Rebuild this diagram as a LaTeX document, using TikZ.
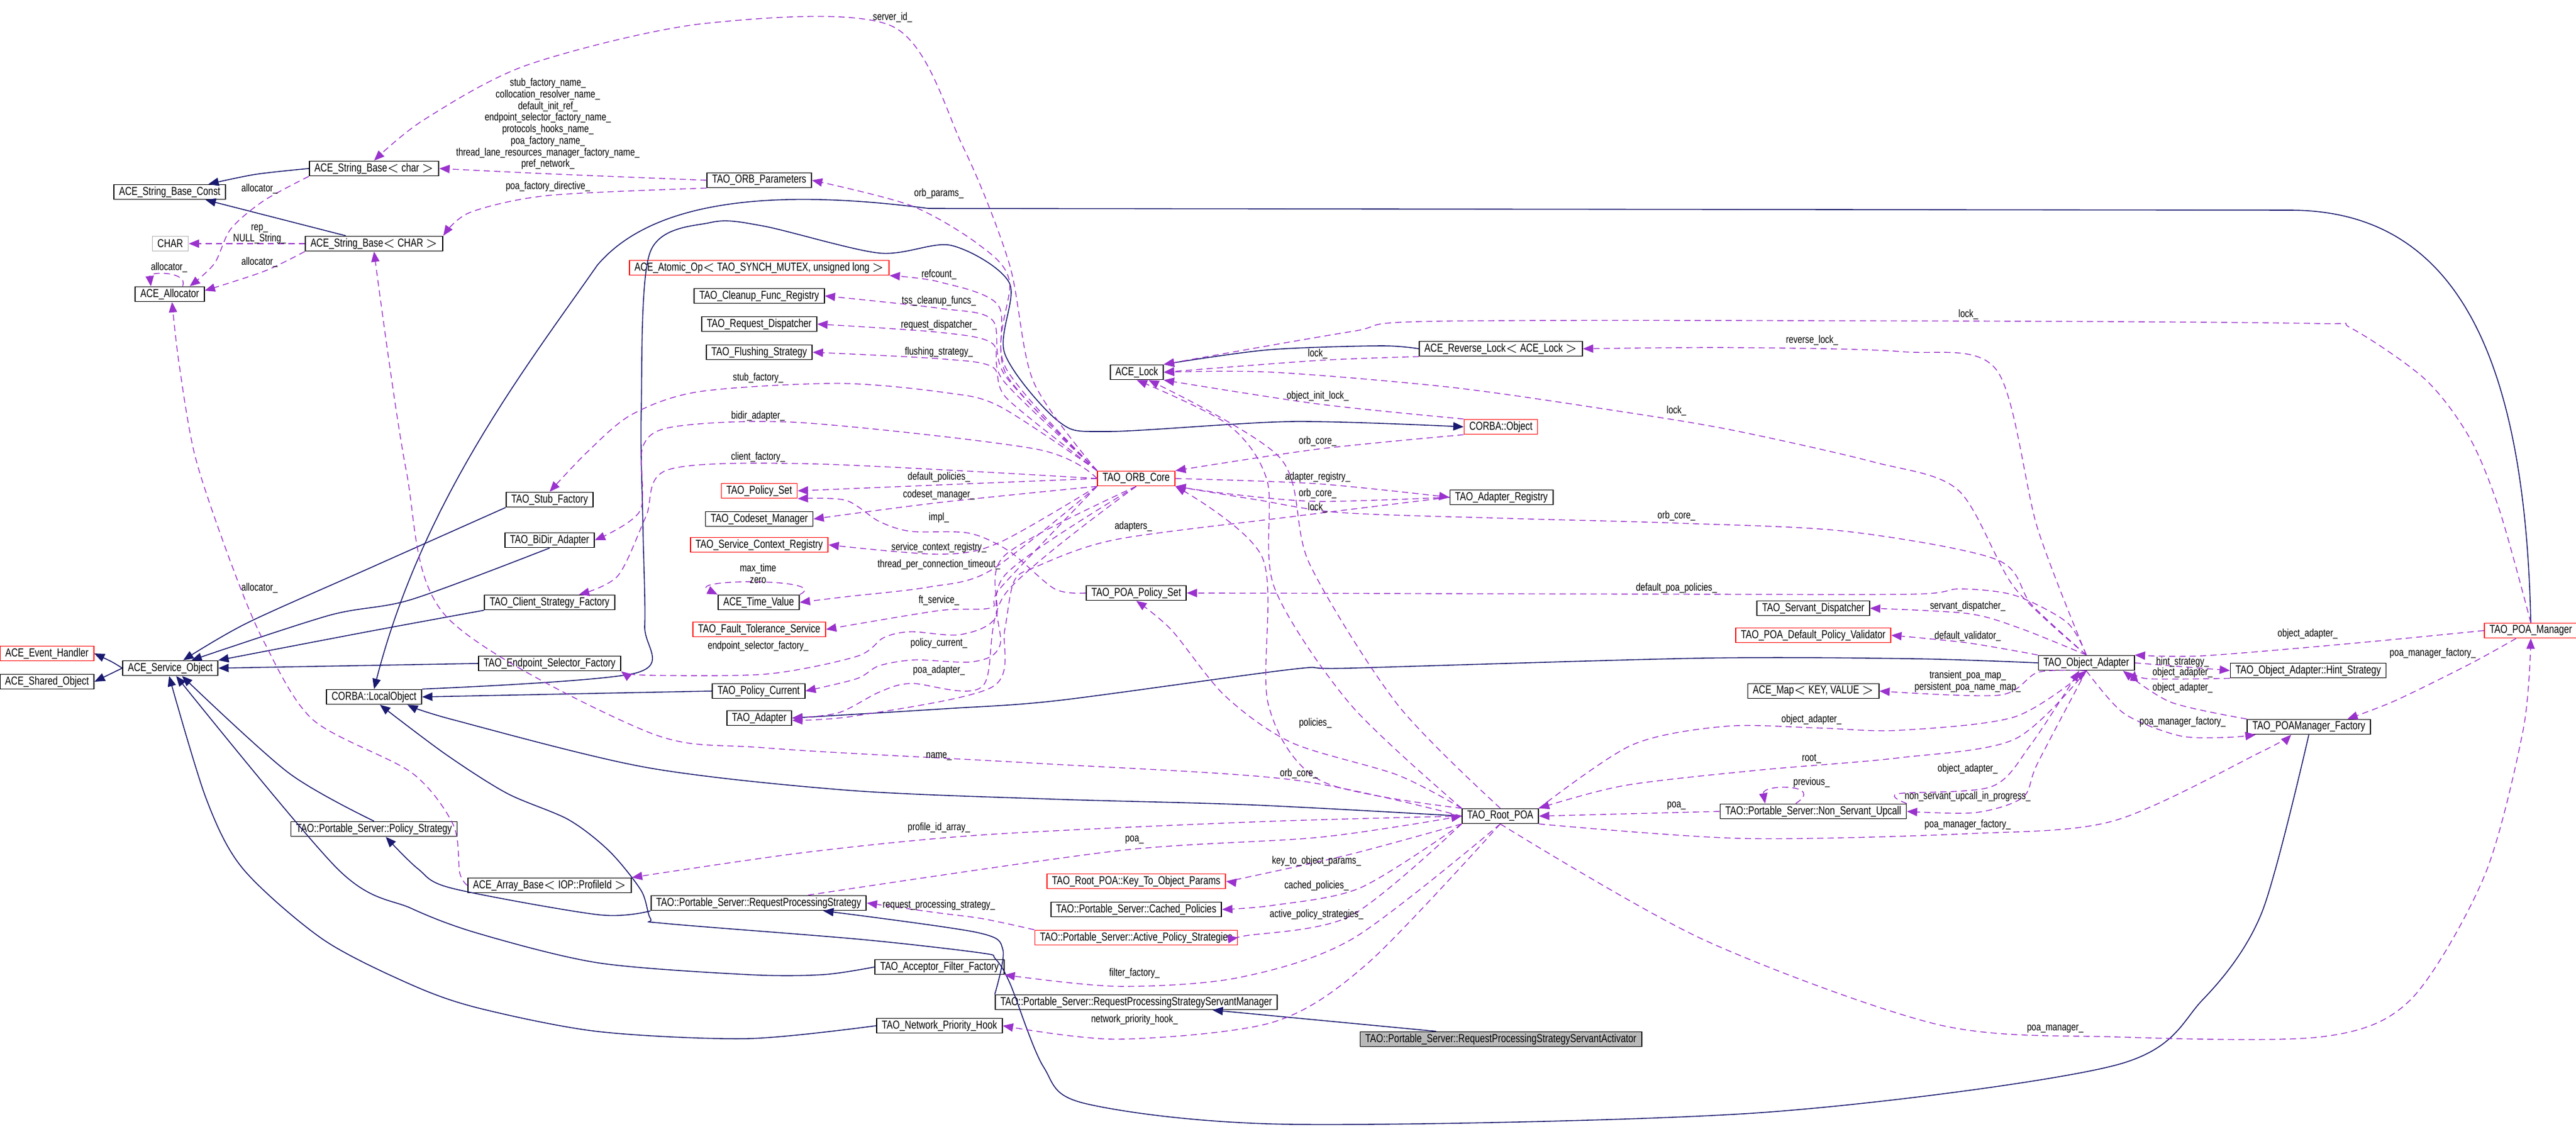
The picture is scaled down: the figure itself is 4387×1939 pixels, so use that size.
\documentclass[tikz,border=0pt]{standalone}
\usepackage{fontspec}
\setmainfont{Liberation Sans}[FakeStretch=0.78]
\usetikzlibrary{positioning,arrows.meta,calc}
\definecolor{memcol}{HTML}{9A32CD}
\definecolor{navy}{HTML}{191970}
\newcommand\clsfont{\fontsize{5.6}{6}\selectfont}
\newcommand\lblfont{\fontsize{5.2}{5.6}\selectfont}
\tikzset{
  cls/.style={draw, font=\clsfont, minimum height=0.25cm, inner xsep=2.5pt, inner ysep=0pt, line width=0.5pt},
  redcls/.style={cls, draw=red},
  graycls/.style={cls, draw=gray!60},
  member/.style={draw=memcol, dash pattern=on 3pt off 2pt, line width=0.4pt, -{Triangle[length=5pt,width=4pt]}},
  inherit/.style={draw=navy, line width=0.45pt, -{Triangle[length=5pt,width=4pt]}},
  lbl/.style={font=\lblfont, inner sep=0.5pt, align=center}
}
\begin{document}
\begin{tikzpicture}[x=0.01cm,y=-0.01cm]
\fill[white] (0,0) rectangle (4387,1939);
\useasboundingbox (0,0) rectangle (4387,1939);

% classes
\node[cls] (sbc) at (289,327) {ACE\_String\_Base\_Const};
\node[cls] (sbchar) at (637,287) {ACE\_String\_Base$<$ char $>$};
\node[graycls] (charn) at (290,415) {CHAR};
\node[cls] (sbCHAR) at (637,415) {ACE\_String\_Base$<$ CHAR $>$};
\node[cls] (alloc) at (289,501) {ACE\_Allocator};
\node[cls] (orbparams) at (1293,307) {TAO\_ORB\_Parameters};
\node[redcls] (atomic) at (1293,456) {ACE\_Atomic\_Op$<$ TAO\_SYNCH\_MUTEX, unsigned long $>$};
\node[cls] (cleanup) at (1293,504) {TAO\_Cleanup\_Func\_Registry};
\node[cls] (reqdisp) at (1293,552) {TAO\_Request\_Dispatcher};
\node[cls] (flush) at (1293,600) {TAO\_Flushing\_Strategy};
\node[cls] (acelock) at (1936,634) {ACE\_Lock};
\node[cls] (revlock) at (2556,594) {ACE\_Reverse\_Lock$<$ ACE\_Lock $>$};
\node[redcls] (corbaobj) at (2556,727) {CORBA::Object};
\node[redcls] (orbcore) at (1935,815) {TAO\_ORB\_Core};
\node[cls] (adreg) at (2557,847) {TAO\_Adapter\_Registry};
\node[cls] (stubf) at (936,851) {TAO\_Stub\_Factory};
\node[cls] (bidir) at (936,920) {TAO\_BiDir\_Adapter};
\node[cls] (clientf) at (936,1026) {TAO\_Client\_Strategy\_Factory};
\node[cls] (endpf) at (936,1130) {TAO\_Endpoint\_Selector\_Factory};
\node[redcls] (evh) at (80,1113) {ACE\_Event\_Handler};
\node[cls] (shobj) at (80,1161) {ACE\_Shared\_Object};
\node[cls] (svcobj) at (290,1138) {ACE\_Service\_Object};
\node[cls] (localobj) at (637,1187) {CORBA::LocalObject};
\node[redcls] (polset) at (1293,836) {TAO\_Policy\_Set};
\node[cls] (codeset) at (1293,884) {TAO\_Codeset\_Manager};
\node[redcls] (scr) at (1293,928) {TAO\_Service\_Context\_Registry};
\node[cls] (timev) at (1292,1026) {ACE\_Time\_Value};
\node[redcls] (fts) at (1293,1072) {TAO\_Fault\_Tolerance\_Service};
\node[cls] (polcur) at (1292,1177) {TAO\_Policy\_Current};
\node[cls] (adapter) at (1293,1223) {TAO\_Adapter};
\node[cls] (poapolset) at (1935,1010) {TAO\_POA\_Policy\_Set};
\node[cls] (servdisp) at (3088,1036) {TAO\_Servant\_Dispatcher};
\node[redcls] (validator) at (3088,1082) {TAO\_POA\_Default\_Policy\_Validator};
\node[cls] (objad) at (3553,1129) {TAO\_Object\_Adapter};
\node[cls] (hint) at (3931,1142) {TAO\_Object\_Adapter::Hint\_Strategy};
\node[redcls] (poamgr) at (4310,1074) {TAO\_POA\_Manager};
\node[cls] (acemap) at (3088,1177) {ACE\_Map$<$ KEY, VALUE $>$};
\node[cls] (poamgrf) at (3932,1238) {TAO\_POAManager\_Factory};
\node[cls] (nsu) at (3088,1382) {TAO::Portable\_Server::Non\_Servant\_Upcall};
\node[cls] (rootpoa) at (2555,1390) {TAO\_Root\_POA};
\node[cls] (polstrat) at (637,1412) {TAO::Portable\_Server::Policy\_Strategy};
\node[cls] (arraybase) at (936,1508) {ACE\_Array\_Base$<$ IOP::ProfileId $>$};
\node[cls] (rps) at (1292,1538) {TAO::Portable\_Server::RequestProcessingStrategy};
\node[redcls] (keyparams) at (1935,1501) {TAO\_Root\_POA::Key\_To\_Object\_Params};
\node[cls] (cached) at (1935,1549) {TAO::Portable\_Server::Cached\_Policies};
\node[redcls] (active) at (1935,1597) {TAO::Portable\_Server::Active\_Policy\_Strategies};
\node[cls] (acceptor) at (1600,1647) {TAO\_Acceptor\_Filter\_Factory};
\node[cls] (rpssm) at (1935,1707) {TAO::Portable\_Server::RequestProcessingStrategyServantManager};
\node[cls] (nethook) at (1600,1747) {TAO\_Network\_Priority\_Hook};
\node[cls, fill=gray!55] (activator) at (2556,1770) {TAO::Portable\_Server::RequestProcessingStrategyServantActivator};

% inheritance
\draw[inherit] plot[smooth] coordinates {(sbchar.west) (435,297) ($(sbc.north east)+(-30,0)$)};
\draw[inherit] ($(sbCHAR.north west)+(70,0)$) -- ($(sbc.south east)+(-35,0)$);
\draw[inherit] plot[smooth] coordinates {(svcobj.west) (190,1127) (evh.east)};
\draw[inherit] (svcobj.west) -- (shobj.east);
\draw[inherit] plot[smooth] coordinates {(stubf.south west) (631,967) (421,1061) ($(svcobj.north)+(22,0)$)};
\draw[inherit] plot[smooth] coordinates {(bidir.south) (701,1021) (561,1048) ($(svcobj.north)+(36,0)$)};
\draw[inherit] plot[smooth] coordinates {(clientf.south west) (631,1075) ($(svcobj.north east)+(0,0)$)};
\draw[inherit] (endpf.west) -- (svcobj.east);
\draw[inherit] plot[smooth] coordinates {(polstrat.north) (491,1316) ($(svcobj.south)+(20,0)$)};
\draw[inherit] plot[smooth] coordinates {(acceptor.west) (1402,1660) (1274,1660) (1019,1640) (815,1590) (700,1547) (575,1480) ($(svcobj.south)+(10,0)$)};
\draw[inherit] plot[smooth] coordinates {(nethook.west) (1274,1769) (1019,1757) (815,1717) (700,1677) (550,1600) (414,1480) (351,1360) ($(svcobj.south)+(-2,0)$)};
\draw[inherit] plot[smooth] coordinates {(rps.south west) (1019,1558) (770,1513) (712,1480) ($(polstrat.south)+(20,0)$)};
\draw[inherit] plot[smooth] coordinates {(rpssm.north west) (1708,1618) (1663,1588) ($(rps.south)+(110,0)$)};
\draw[inherit] ($(activator.north)+(-110,0)$) -- ($(rpssm.south)+(130,0)$);
\draw[inherit] (polcur.west) -- (localobj.east);
\draw[inherit] (poamgr.north) .. controls (4300,600) and (4180,358) .. (3900,358) -- (1581,355)
  .. controls (1350,325) and (1120,330) .. (1017,452) .. controls (900,620) and (720,850) .. (localobj.north);
\draw[inherit] plot[smooth] coordinates {(localobj.north east) (1084,1146) (1098,1066) (1095,900) (1092,700) (1107,430) (1210,379) (1300,385) (1497,431) (1620,418) (1719,482) (1711,602) (1803,718) (1887,735) (2200,718) (corbaobj.west)};
\draw[inherit] plot[smooth] coordinates {(rootpoa.west) (2133,1371) (1789,1361) (1444,1346) (1100,1307) (772,1226) ($(localobj.south east)+(-25,0)$)};
\draw[inherit] plot[smooth] coordinates {(poamgrf.south) (3852,1554) (3751,1703) (3600,1815) (3000,1895) (2200,1915) (1850,1880) (1777,1817) (1720,1675) (1695,1633) (1670,1623) (1466,1600) (1134,1573) (1108,1565) (1092,1517) (1038,1450) (968,1396) (863,1351) (758,1284) ($(localobj.south)+(10,0)$)};
\draw[inherit] plot[smooth] coordinates {(objad.west) (3258,1122) (2899,1121) (2300,1138) (2200,1140) (1803,1193) (1612,1207) (adapter.east)};
\draw[inherit] plot[smooth] coordinates {(revlock.west) (2350,589) (2158,596) (acelock.north east)};

% members, left part
\draw[member] plot[smooth] coordinates {(orbparams.west) (933,296) (sbchar.east)};
\node[lbl, anchor=south] (lStrNames) at (933,291) {stub\_factory\_name\_\\collocation\_resolver\_name\_\\default\_init\_ref\_\\endpoint\_selector\_factory\_name\_\\protocols\_hooks\_name\_\\poa\_factory\_name\_\\thread\_lane\_resources\_manager\_factory\_name\_\\pref\_network\_};
\draw[member] plot[smooth] coordinates {(orbparams.south west) (933,333) (800,362) (sbCHAR.north east)};
\node[lbl] (lPoaDir) at (933,318) {poa\_factory\_directive\_};
\draw[member] plot[smooth] coordinates {(sbchar.south west) (449,342) (393,390) (365,449) ($(alloc.north)+(34,0)$)};
\node[lbl] (lAlloc1) at (442,322) {allocator\_};
\draw[member] (sbCHAR.west) -- (charn.east);
\node[lbl] (lRep) at (442,399) {rep\_\\NULL\_String\_};
\draw[member] plot[smooth] coordinates {(sbCHAR.south west) (450,462) ($(alloc.east)+(0,-6)$)};
\node[lbl] (lAlloc2) at (442,447) {allocator\_};
\draw[member] ($(alloc.north)+(22,0)$) .. controls (322,462) and (254,462) .. ($(alloc.north)+(-32,0)$);
\node[lbl] (lAlloc3) at (288,456) {allocator\_};
\draw[member] plot[smooth] coordinates {(arraybase.west) (783,1487) (772,1405) (701,1316) (533,1226) (449,1092) (393,958) (333,780) (305,620) ($(alloc.south)+(4,0)$)};
\node[lbl] (lAlloc4) at (442,1002) {allocator\_};
\draw[member] plot[smooth] coordinates {(rootpoa.west) (2200,1328) (1765,1300) (1306,1274) (1099,1245) (760,1050) (691,797) (sbCHAR.south)};
\node[lbl] (lName) at (1599,1288) {name\_};
\draw[member] plot[smooth] coordinates {(orbcore.north west) (1760,650) (1719,450) (1640,250) (1520,45) (1200,40) (900,110) (722,204) (sbchar.north)};
\node[lbl] (lServer) at (1520,30) {server\_id\_};

% members of TAO_ORB_Core
\draw[member] plot[smooth] coordinates {(orbcore.north west) (1711,623) (1719,478) (1666,416) (1551,350) (orbparams.east)};
\node[lbl] (lOrbParams) at (1599,330) {orb\_params\_};
\draw[member] plot[smooth] coordinates {(orbcore.north west) (1715,640) (1700,520) (1599,480) (atomic.south east)};
\node[lbl] (lRef) at (1599,468) {refcount\_};
\draw[member] plot[smooth] coordinates {(orbcore.north west) (1712,640) (1690,545) (1599,525) (cleanup.east)};
\node[lbl] (lTss) at (1599,513) {tss\_cleanup\_funcs\_};
\draw[member] plot[smooth] coordinates {(orbcore.north west) (1710,650) (1690,585) (1599,566) (reqdisp.east)};
\node[lbl] (lReq) at (1599,554) {request\_dispatcher\_};
\draw[member] plot[smooth] coordinates {(orbcore.north west) (1716,680) (1690,625) (1599,611) (flush.east)};
\node[lbl] (lFlush) at (1599,600) {flushing\_strategy\_};
\draw[member] plot[smooth] coordinates {(orbcore.north west) (1704,693) (1612,669) (1428,653) (1191,667) (1076,706) (1000,770) (stubf.north)};
\node[lbl] (lStub) at (1291,644) {stub\_factory\_};
\draw[member] plot[smooth] coordinates {(orbcore.west) (1765,765) (1367,720) (1153,726) (1095,760) (1090,870) (bidir.east)};
\node[lbl] (lBidir) at (1291,709) {bidir\_adapter\_};
\draw[member] plot[smooth] coordinates {(orbcore.west) (1382,790) (1138,800) (1100,880) (1052,981) ($(clientf.north)+(50,0)$)};
\node[lbl] (lClient) at (1291,779) {client\_factory\_};
\draw[member] plot[smooth] coordinates {(orbcore.west) (1599,826) (polset.east)};
\node[lbl] (lDefPol) at (1599,813) {default\_policies\_};
\draw[member] plot[smooth] coordinates {(orbcore.south west) (1599,856) (codeset.east)};
\node[lbl] (lCodeset) at (1599,843) {codeset\_manager\_};
\draw[member] plot[smooth] coordinates {(poapolset.west) (1796,1003) (1719,939) (1650,908) (1551,905) (1497,888) (1440,852) (polset.south east)};
\node[lbl] (lImpl) at (1599,882) {impl\_};
\draw[member] plot[smooth] coordinates {(orbcore.south west) (1700,925) (1599,944) (scr.east)};
\node[lbl] (lScr) at (1599,933) {service\_context\_registry\_};
\draw[member] plot[smooth] coordinates {(orbcore.south west) (1688,971) (1581,1000) (1444,1016) (timev.east)};
\node[lbl] (lTpc) at (1599,962) {thread\_per\_connection\_timeout\_};
\draw[member] (timev.north east) .. controls (1420,985) and (1165,985) .. (timev.north west);
\node[lbl] (lMax) at (1291,977) {max\_time\\zero};
\draw[member] plot[smooth] coordinates {(orbcore.south west) (1705,1000) (1688,1035) (1599,1040) (fts.east)};
\node[lbl] (lFt) at (1599,1023) {ft\_service\_};
\draw[member] plot[smooth] coordinates {(orbcore.south) (1711,946) (1696,1051) (1635,1081) (1551,1076) (1505,1086) (1459,1118) (1306,1148) (1100,1150) (endpf.south east)};
\node[lbl] (lEndp) at (1291,1101) {endpoint\_selector\_factory\_};
\draw[member] plot[smooth] coordinates {(orbcore.south) (1711,980) (1703,1099) (1658,1127) (1558,1124) (1497,1134) (1459,1156) (polcur.east)};
\node[lbl] (lPolCur) at (1599,1096) {policy\_current\_};
\draw[member] plot[smooth] coordinates {(orbcore.south) (1713,1010) (1673,1169) (1551,1164) (1497,1179) (1428,1214) (adapter.east)};
\node[lbl] (lPoaAd) at (1599,1142) {poa\_adapter\_};
\draw[member] plot[smooth] coordinates {(adreg.west) (2200,880) (1900,919) (1765,965) (1727,990) (1711,1073) (1690,1170) (1459,1219) ($(adapter.east)+(0,4)$)};
\node[lbl] (lAdapters) at (1930,897) {adapters\_};
\draw[member] plot[smooth] coordinates {(orbcore.east) (2244,824) (adreg.west)};
\node[lbl] (lAdReg) at (2244,813) {adapter\_registry\_};
\draw[member] plot[smooth] coordinates {(adreg.west) (2244,854) (2091,841) (orbcore.south east)};
\node[lbl] (lOrbCore1) at (2244,841) {orb\_core\_};

% members around ACE_Lock and CORBA::Object
\draw[member] plot[smooth] coordinates {(corbaobj.south west) (2244,765) (orbcore.north east)};
\node[lbl] (lOrbCore2) at (2244,752) {orb\_core\_};
\draw[member] plot[smooth] coordinates {(corbaobj.north west) (2244,688) (acelock.south east)};
\node[lbl] (lInit) at (2244,675) {object\_init\_lock\_};
\draw[member] plot[smooth] coordinates {(revlock.south west) (2244,614) (acelock.east)};
\node[lbl] (lLock1) at (2244,603) {lock\_};
\draw[member] plot[smooth] coordinates {(poamgr.north) (4257,870) (4206,746) (4130,646) (4004,559) (3943,551) (3400,547) (2455,547) (2300,565) (acelock.north east)};
\node[lbl] (lLock2) at (3352,536) {lock\_};
\draw[member] plot[smooth] coordinates {(objad.north) (3470,900) (3400,630) (3239,599) (2952,592) (revlock.east)};
\node[lbl] (lRev) at (3086,580) {reverse\_lock\_};
\draw[member] plot[smooth] coordinates {(objad.north) (3430,1000) (3335,835) (3191,787) (2952,733) (2761,701) (2474,660) (2168,634) (acelock.east)};
\node[lbl] (lLock3) at (2855,700) {lock\_};
\draw[member] plot[smooth] coordinates {(objad.north) (3460,1030) (3400,953) (3144,905) (2857,891) (2570,883) (2283,873) (2139,851) (orbcore.south east)};
\node[lbl] (lOrbCore3) at (2855,879) {orb\_core\_};
\draw[member] plot[smooth] coordinates {(rootpoa.north west) (2300,1200) (2170,1000) (2158,819) (2091,723) (acelock.south)};
\node[lbl] (lLock4) at (2244,865) {lock\_};
\draw[member] plot[smooth] coordinates {(rootpoa.north) (2380,1200) (2230,960) (2180,780) ($(acelock.south)+(20,0)$)};
\draw[member] plot[smooth] coordinates {(rootpoa.north west) (2250,1330) (2160,1200) (2150,950) (orbcore.south east)};
\node[lbl] (lOrbCore4) at (2212,1318) {orb\_core\_};
\draw[member] plot[smooth] coordinates {(rootpoa.north west) (2380,1320) (2200,1265) (2086,1185) (1995,1073) (poapolset.south)};
\node[lbl] (lPolicies) at (2240,1232) {policies\_};

% members of TAO_Object_Adapter
\draw[member] plot[smooth] coordinates {(objad.north) (3520,1060) (3431,1014) (3338,1003) (3258,1012) (2855,1012) (poapolset.east)};
\node[lbl] (lDefPoa) at (2855,1002) {default\_poa\_policies\_};
\draw[member] plot[smooth] coordinates {(objad.north) (3440,1070) (3351,1045) (servdisp.east)};
\node[lbl] (lServ) at (3351,1033) {servant\_dispatcher\_};
\draw[member] plot[smooth] coordinates {(objad.north west) (3351,1095) (validator.east)};
\node[lbl] (lValid) at (3351,1084) {default\_validator\_};
\draw[member] plot[smooth] coordinates {(objad.south) (3471,1145) (3405,1184) (acemap.east)};
\node[lbl] (lMaps) at (3351,1161) {transient\_poa\_map\_\\persistent\_poa\_name\_map\_};
\draw[member] plot[smooth] coordinates {(rootpoa.north east) (2779,1269) (2939,1237) (3099,1240) (3232,1244) (3431,1221) (objad.south)};
\node[lbl] (lOA1) at (3085,1226) {object\_adapter\_};
\draw[member] plot[smooth] coordinates {(objad.south) (3431,1259) (3232,1291) (2992,1312) (2766,1338) (rootpoa.north east)};
\node[lbl] (lRoot) at (3085,1292) {root\_};
\draw[member] plot[smooth] coordinates {(nsu.north east) (3232,1352) (3391,1340) (3458,1269) ($(objad.south)+(-12,0)$)};
\node[lbl] (lOA2) at (3351,1310) {object\_adapter\_};
\draw[member] ($(nsu.north)+(-30,0)$) .. controls (3110,1335) and (3000,1335) .. ($(nsu.north)+(-82,0)$);
\node[lbl] (lPrev) at (3085,1333) {previous\_};
\draw[member] plot[smooth] coordinates {(objad.south) (3470,1300) (3445,1358) (3365,1384) (nsu.east)};
\node[lbl] (lNsu) at (3351,1357) {non\_servant\_upcall\_in\_progress\_};
\draw[member] (nsu.west) -- (rootpoa.east);
\node[lbl] (lPoa1) at (2855,1372) {poa\_};
\draw[member] plot[smooth] coordinates {(rootpoa.south east) (2965,1428) (3351,1420) (3600,1398) (3852,1280) ($(poamgrf.south)+(-30,0)$)};
\node[lbl] (lPmf1) at (3351,1405) {poa\_manager\_factory\_};
\draw[member] (objad.east) -- (hint.west);
\node[lbl] (lHint) at (3717,1128) {hint\_strategy\_};
\draw[member] plot[smooth] coordinates {(hint.south west) (3657,1156) (objad.south east)};
\node[lbl] (lOA3) at (3717,1146) {object\_adapter\_};
\draw[member] plot[smooth] coordinates {(poamgrf.north west) (3697,1196) ($(objad.south east)+(-20,0)$)};
\node[lbl] (lOA4) at (3717,1172) {object\_adapter\_};
\draw[member] plot[smooth] coordinates {(objad.south) (3617,1215) (3711,1253) (3791,1256) ($(poamgrf.south west)+(15,0)$)};
\node[lbl] (lPmf2) at (3717,1230) {poa\_manager\_factory\_};
\draw[member] plot[smooth] coordinates {(poamgr.west) (4004,1096) (3751,1117) (objad.north east)};
\node[lbl] (lOA5) at (3930,1080) {object\_adapter\_};
\draw[member] plot[smooth] coordinates {($(poamgr.south)+(-25,0)$) (4206,1131) (4080,1193) ($(poamgrf.north east)+(-40,0)$)};
\node[lbl] (lPmf3) at (4143,1113) {poa\_manager\_factory\_};
\draw[member] plot[smooth] coordinates {(rootpoa.south) (2900,1600) (3300,1745) (3600,1766) (3953,1766) (4105,1703) (4231,1492) (4297,1243) (poamgr.south)};
\node[lbl] (lPm) at (3500,1752) {poa\_manager\_};

% members of TAO_Root_POA, bottom part
\draw[member] plot[smooth] coordinates {(rootpoa.west) (2133,1400) (1674,1422) (1370,1452) (arraybase.north east)};
\node[lbl] (lProfile) at (1599,1410) {profile\_id\_array\_};
\draw[member] plot[smooth] coordinates {($(rps.north)+(84,0)$) (1904,1449) (2248,1426) (rootpoa.west)};
\node[lbl] (lPoa2) at (1932,1430) {poa\_};
\draw[member] plot[smooth] coordinates {(rootpoa.south west) (2300,1455) (2120,1495) (keyparams.east)};
\node[lbl] (lKey) at (2242,1467) {key\_to\_object\_params\_};
\draw[member] plot[smooth] coordinates {(rootpoa.south west) (2317,1512) (2168,1542) (cached.east)};
\node[lbl] (lCached) at (2242,1509) {cached\_policies\_};
\draw[member] plot[smooth] coordinates {(rootpoa.south west) (2300,1560) (2120,1594) (active.east)};
\node[lbl] (lActive) at (2242,1558) {active\_policy\_strategies\_};
\draw[member] plot[smooth] coordinates {(active.north west) (1675,1565) (1599,1555) (rps.east)};
\node[lbl] (lRps) at (1599,1542) {request\_processing\_strategy\_};
\draw[member] plot[smooth] coordinates {(rootpoa.south) (2305,1598) (2110,1665) (1904,1680) (acceptor.south east)};
\node[lbl] (lFilter) at (1932,1658) {filter\_factory\_};
\draw[member] plot[smooth] coordinates {(rootpoa.south) (2330,1640) (2168,1741) (1904,1770) (nethook.east)};
\node[lbl] (lNet) at (1932,1737) {network\_priority\_hook\_};
\end{tikzpicture}
\end{document}
